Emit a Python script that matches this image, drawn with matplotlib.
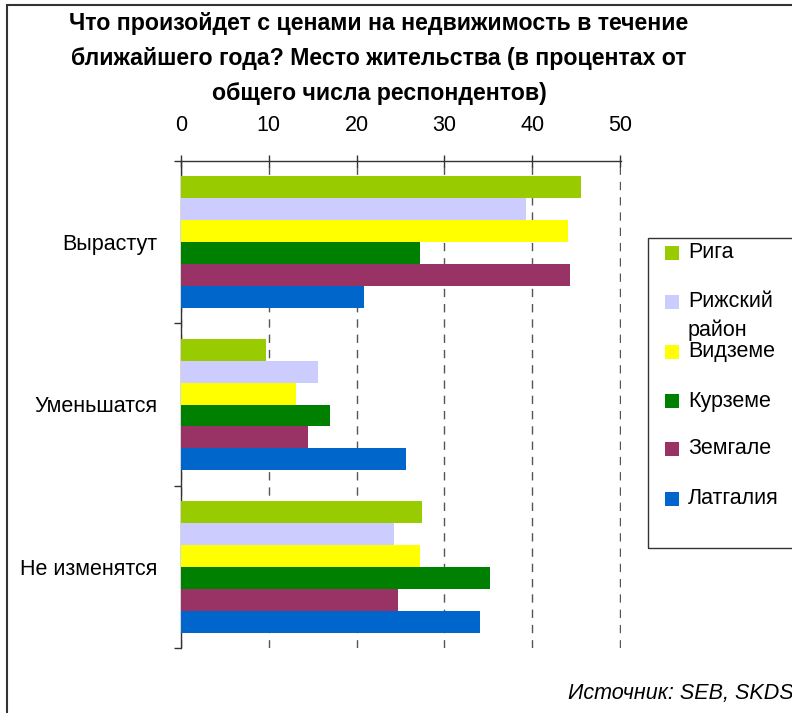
import numpy as np
import matplotlib.pyplot as plt
from matplotlib.patches import Rectangle

plt.rcParams['font.family'] = ['Liberation Sans', 'DejaVu Sans']

CATEGORIES = ['Вырастут', 'Уменьшатся', 'Не изменятся']
REGIONS = ['Рига', 'Рижский\nрайон', 'Видземе', 'Курземе', 'Земгале', 'Латгалия']
COLORS = ['#99CC00', '#CCCCFF', '#FFFF00', '#008000', '#993366', '#0066CC']

# values per region, order follows CATEGORIES
RIGA = [45.5, 9.7, 27.5]
RIGA_DISTRICT = [39.3, 15.6, 24.3]
VIDZEME = [44.1, 13.1, 27.2]
KURZEME = [27.2, 17.0, 35.2]
ZEMGALE = [44.3, 14.5, 24.7]
LATGALE = [20.8, 25.6, 34.1]
SERIES = [RIGA, RIGA_DISTRICT, VIDZEME, KURZEME, ZEMGALE, LATGALE]

W, H = 792, 713
fig = plt.figure(figsize=(W / 100, H / 100), dpi=100)

# frame around the whole picture (right/bottom edges are cut off)
fig.patches.append(Rectangle((7 / W, -0.1), 1.2, 1 - 5 / H + 0.1,
                             transform=fig.transFigure, fill=False,
                             edgecolor='#333333', linewidth=1.5))

ax = fig.add_axes([181 / W, 1 - 648 / H, (620.5 - 181) / W, (648 - 161) / H])

bar_h = 0.1355
y = np.arange(len(CATEGORIES))
for j, (vals, col) in enumerate(zip(SERIES, COLORS)):
    pos = y - 0.4065 + (j + 0.5) * bar_h
    ax.barh(pos, vals, height=bar_h, color=col, edgecolor='none', zorder=3)

ax.set_xlim(0, 50.05)
ax.set_ylim(2.5, -0.5)
ax.xaxis.tick_top()
ax.set_xticks([0, 10, 20, 30, 40, 50])
ax.tick_params(axis='x', direction='inout', length=8, width=1,
               color='#333333', labelsize=15.5, pad=14)
ax.grid(axis='x', color='#555555', linestyle=(0, (6, 5)), linewidth=1, zorder=1)

ax.set_yticks(y)
ax.set_yticklabels(CATEGORIES, fontsize=15.5)
ax.tick_params(axis='y', which='major', length=0, pad=17)
ax.set_yticks([-0.5, 0.5, 1.5, 2.5], minor=True)
ax.tick_params(axis='y', which='minor', direction='out', length=5,
               width=1, color='#333333')

for s in ['right', 'bottom']:
    ax.spines[s].set_visible(False)
for s in ['top', 'left']:
    ax.spines[s].set_color('#333333')
    ax.spines[s].set_linewidth(1)

# title
title = ('Что произойдет с ценами на недвижимость в течение\n'
         'ближайшего года? Место жительства (в процентах от\n'
         'общего числа респондентов)')
fig.text(379 / W, 1 - 12 / H, title, ha='center', va='top',
         fontsize=16.7, fontweight='bold', linespacing=1.66)

# legend box
fig.patches.append(Rectangle((648 / W, 1 - 548 / H), 0.3, (548 - 238) / H,
                             transform=fig.transFigure, fill=False,
                             edgecolor='#333333', linewidth=1))
leg_y = [253, 302, 352, 401, 449, 499]
for lab, col, ly in zip(REGIONS, COLORS, leg_y):
    fig.patches.append(Rectangle((665 / W, 1 - (ly + 7) / H), 14 / W, 14 / H,
                                 transform=fig.transFigure, facecolor=col,
                                 edgecolor='none'))
    for k, part in enumerate(lab.split('\n')):
        fig.text(688 / W, 1 - (ly + 28 * k) / H, part, ha='left', va='center',
                 fontsize=15.5)

fig.text(568 / W, 1 - 693 / H, 'Источник: SEB, SKDS', ha='left', va='center',
         fontsize=15.5, style='italic')

fig.savefig('out.png', dpi=100)
